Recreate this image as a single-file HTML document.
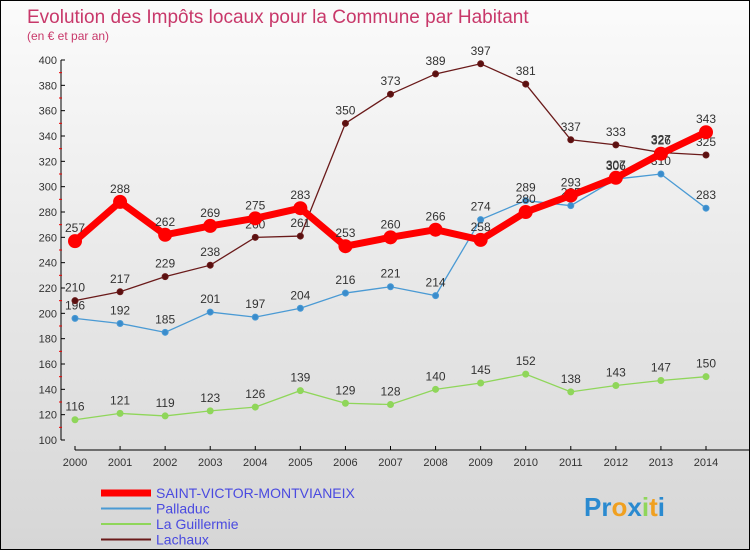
<!DOCTYPE html>
<html><head><meta charset="utf-8"><style>
body{margin:0;}
#c{position:relative;width:748px;height:548px;border:1px solid #000;background:linear-gradient(#fbfbfb,#d6d6d6);font-family:"Liberation Sans",sans-serif;overflow:hidden}
</style></head><body>
<div id="c">
<svg id="s" width="748" height="548"></svg>
</div>
<script>
const years=[2000,2001,2002,2003,2004,2005,2006,2007,2008,2009,2010,2011,2012,2013,2014];
const svSeries=[257,288,262,269,275,283,253,260,266,258,280,293,307,326,343];
const palSeries=[196,192,185,201,197,204,216,221,214,274,289,285,306,310,283];
const guiSeries=[116,121,119,123,126,139,129,128,140,145,152,138,143,147,150];
const lacSeries=[210,217,229,238,260,261,350,373,389,397,381,337,333,327,325];
const yTicks=[100,120,140,160,180,200,220,240,260,280,300,320,340,360,380,400];
const NS='http://www.w3.org/2000/svg';
const s=document.getElementById('s');
function X(i){return 74+i*(631/14);}
function Y(v){return 439-(v-100)*(380/300);}
function el(t,a,p){const e=document.createElementNS(NS,t);for(const k in a)e.setAttribute(k,a[k]);(p||s).appendChild(e);return e;}
let t=el('text',{x:26,y:22,fill:'#c8386a','font-size':19});t.textContent='Evolution des Impôts locaux pour la Commune par Habitant';

t=el('text',{x:26,y:39,fill:'#c8386a','font-size':12});t.textContent='(en € et par an)';

let ax=el('line',{x1:60,y1:Y(400),x2:60,y2:Y(100),stroke:'#000'});

ax=el('line',{x1:X(0),y1:Y(100)+10,x2:748,y2:Y(100)+10,stroke:'#000'});

yTicks.forEach(v=>{el('line',{x1:60,x2:64,y1:Y(v),y2:Y(v),stroke:'#000'});
 if(v<400)el('line',{x1:58,x2:61,y1:Y(v+10),y2:Y(v+10),stroke:'#e00'});
 const tt=el('text',{x:56,y:Y(v)+4,'text-anchor':'end','font-size':11,fill:'#333'});tt.textContent=v;
 });
years.forEach((y,i)=>{el('line',{x1:X(i),x2:X(i),y1:Y(100)+6,y2:Y(100)+10,stroke:'#000'});
 const tt=el('text',{x:X(i),y:Y(100)+26,'text-anchor':'middle','font-size':11,fill:'#333'});tt.textContent=y;
 });
function series(d,col,w,r,name,dot){
 const g=el('g',{});
 el('polyline',{points:d.map((v,i)=>X(i)+','+Y(v)).join(' '),fill:'none',stroke:col,'stroke-width':w},g);
 d.forEach((v,i)=>{el('circle',{cx:X(i),cy:Y(v),r:r,fill:dot,stroke:col},g);
  const tt=el('text',{x:X(i),y:Y(v)-9,'text-anchor':'middle','font-size':12,fill:'#333'},g);tt.textContent=v;});
}
series(guiSeries,'#8fd65a',1.3,3,'series-la-guillermie','#8fd65a');
series(palSeries,'#4a9ad4',1.3,3,'series-palladuc','#3a8ccc');
series(lacSeries,'#6a1a1a',1.3,3,'series-lachaux','#5a1010');
series(svSeries,'#f00',7,6.5,'series-saint-victor','#f00');
const leg=[['SAINT-VICTOR-MONTVIANEIX','#f00',7],['Palladuc','#4a9ad4',2],['La Guillermie','#8fd65a',2],['Lachaux','#6a1a1a',2]];
leg.forEach((l,i)=>{const g=el('g',{});
 const y=492+i*15.5;el('line',{x1:100,x2:150,y1:y,y2:y,stroke:l[1],'stroke-width':l[2]},g);
 const tt=el('text',{x:155,y:y+5,'font-size':14,fill:'#4a4ae0'},g);tt.textContent=l[0];});
const lg=el('text',{x:583,y:515,'font-size':26,'font-weight':'bold',fill:'#2a8ad0'});

[['Pr','#2a8ad0'],['o','#f0a020'],['x','#2a8ad0'],['i','#8fd65a'],['t','#f0a020'],['i','#2a8ad0']].forEach(p=>{const sp=el('tspan',{fill:p[1]},lg);sp.textContent=p[0];});
</script>
</body></html>
